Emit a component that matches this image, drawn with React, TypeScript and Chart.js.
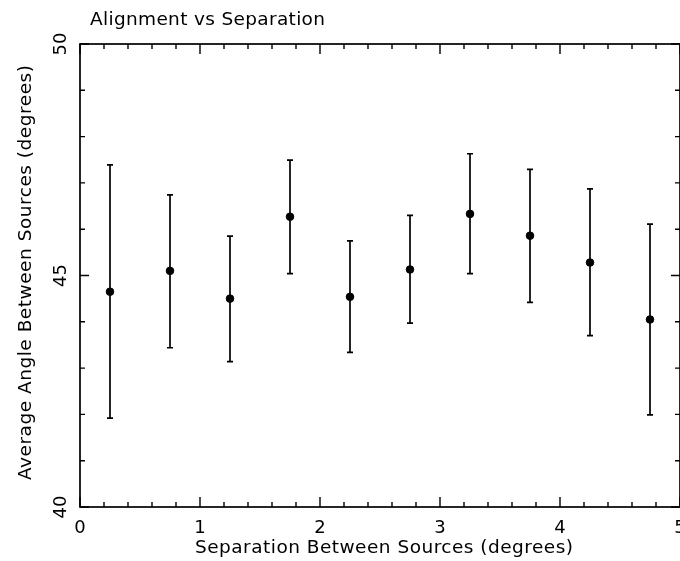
import React, { useEffect, useRef } from "react";
import { Chart, registerables } from "chart.js";

Chart.register(...registerables);

// ---- data ----
const separation = [0.25, 0.75, 1.25, 1.75, 2.25, 2.75, 3.25, 3.75, 4.25, 4.75];
const meanAngle = [44.65, 45.1, 44.5, 46.27, 44.54, 45.13, 46.33, 45.86, 45.28, 44.05];
const errLow = [41.92, 43.44, 43.14, 45.04, 43.34, 43.97, 45.04, 44.42, 43.7, 41.99];
const errHigh = [47.39, 46.74, 45.85, 47.49, 45.75, 46.3, 47.63, 47.29, 46.87, 46.11];

const xTickValues = [0, 1, 2, 3, 4, 5];
const xTickLabels = ["0", "1", "2", "3", "4", "5"];
const xMinorStep = 0.2;
const yTickValues = [40, 45, 50];
const yTickLabels = ["40", "45", "50"];
const yMinorStep = 1;

const titleText = "Alignment vs Separation";
const xTitle = "Separation Between Sources (degrees)";
const yTitle = "Average Angle Between Sources (degrees)";

const FONT = '"DejaVu Sans", sans-serif';

function fitText(ctx: CanvasRenderingContext2D, text: string, target: number) {
  (ctx as any).letterSpacing = "0px";
  const w = ctx.measureText(text).width;
  const ls = (target - w) / Math.max(1, text.length - 1);
  (ctx as any).letterSpacing = ls.toFixed(2) + "px";
}

const framePlugin = {
  id: "framePlugin",
  beforeDatasetsDraw(chart: any) {
    const ctx: CanvasRenderingContext2D = chart.ctx;
    const xs = chart.scales.x;
    const ys = chart.scales.y;
    const { left, right, top, bottom } = chart.chartArea;
    ctx.save();
    ctx.strokeStyle = "#000";
    ctx.lineWidth = 1.7;
    ctx.lineCap = "butt";
    ctx.strokeRect(left, top, right - left, bottom - top);

    // x ticks (bottom & top, inward)
    const xmin = xs.min, xmax = xs.max;
    ctx.lineWidth = 1.4;
    for (let v = xmin; v <= xmax + 1e-9; v += xMinorStep) {
      const val = Math.round(v * 1000) / 1000;
      const major = xTickValues.some((t) => Math.abs(t - val) < 1e-6);
      const len = major ? 10 : 5;
      const px = xs.getPixelForValue(val);
      ctx.beginPath();
      ctx.moveTo(px, bottom);
      ctx.lineTo(px, bottom - len);
      ctx.moveTo(px, top);
      ctx.lineTo(px, top + len);
      ctx.stroke();
    }
    // y ticks (left & right, inward)
    for (let v = ys.min; v <= ys.max + 1e-9; v += yMinorStep) {
      const val = Math.round(v * 1000) / 1000;
      const major = yTickValues.some((t) => Math.abs(t - val) < 1e-6);
      const len = major ? 9 : 5;
      const py = ys.getPixelForValue(val);
      ctx.beginPath();
      ctx.moveTo(left, py);
      ctx.lineTo(left + len, py);
      ctx.moveTo(right, py);
      ctx.lineTo(right - len, py);
      ctx.stroke();
    }

    // error bars
    ctx.lineWidth = 1.7;
    for (let i = 0; i < separation.length; i++) {
      const px = xs.getPixelForValue(separation[i]);
      const pLo = ys.getPixelForValue(errLow[i]);
      const pHi = ys.getPixelForValue(errHigh[i]);
      ctx.beginPath();
      ctx.moveTo(px, pLo);
      ctx.lineTo(px, pHi);
      ctx.moveTo(px - 3, pLo);
      ctx.lineTo(px + 3, pLo);
      ctx.moveTo(px - 3, pHi);
      ctx.lineTo(px + 3, pHi);
      ctx.stroke();
    }

    // text
    ctx.fillStyle = "#000";
    // title
    ctx.font = `18.5px ${FONT}`;
    ctx.textAlign = "left";
    ctx.textBaseline = "alphabetic";
    fitText(ctx, titleText, 235);
    ctx.fillText(titleText, 90, 25);

    // x tick labels
    ctx.font = `18px ${FONT}`;
    ctx.textAlign = "center";
    (ctx as any).letterSpacing = "0px";
    xTickValues.forEach((v, i) => {
      ctx.fillText(xTickLabels[i], xs.getPixelForValue(v), 533);
    });

    // x title
    ctx.font = `18.5px ${FONT}`;
    ctx.textAlign = "left";
    fitText(ctx, xTitle, 378);
    ctx.fillText(xTitle, 195, 553);

    // y tick labels (rotated)
    ctx.font = `18px ${FONT}`;
    ctx.textAlign = "center";
    (ctx as any).letterSpacing = "0px";
    yTickValues.forEach((v, i) => {
      const py = ys.getPixelForValue(v);
      ctx.save();
      ctx.translate(66, py);
      ctx.rotate(-Math.PI / 2);
      ctx.fillText(yTickLabels[i], 0, 0);
      ctx.restore();
    });

    // y title
    ctx.font = `18.5px ${FONT}`;
    ctx.textAlign = "left";
    fitText(ctx, yTitle, 415);
    ctx.save();
    ctx.translate(31, 480);
    ctx.rotate(-Math.PI / 2);
    ctx.fillText(yTitle, 0, 0);
    ctx.restore();

    ctx.restore();
  },
};

export default function App() {
  const ref = useRef<HTMLCanvasElement | null>(null);
  useEffect(() => {
    if (!ref.current) return;
    const chart = new Chart(ref.current, {
      type: "scatter",
      data: {
        datasets: [
          {
            label: "mean",
            data: separation.map((x, i) => ({ x, y: meanAngle[i] })),
            backgroundColor: "#000",
            borderColor: "#000",
            pointRadius: 3.8,
            pointHoverRadius: 3.8,
          },
        ],
      },
      options: {
        animation: false,
        responsive: false,
        devicePixelRatio: 1,
        events: [],
        layout: { padding: { left: 80, top: 44, right: 20, bottom: 54 } },
        plugins: {
          legend: { display: false },
          title: { display: false },
          tooltip: { enabled: false },
        },
        scales: {
          x: { type: "linear", min: 0, max: 5, display: false },
          y: { type: "linear", min: 40, max: 50, display: false },
        },
      },
      plugins: [framePlugin],
    });
    return () => chart.destroy();
  }, []);
  return (
    <div
      style={{
        position: "absolute",
        left: 0,
        top: 0,
        width: 680,
        height: 561,
        overflow: "hidden",
        background: "#fff",
      }}
    >
      <canvas ref={ref} width={700} height={561} style={{ display: "block" }} />
    </div>
  );
}
